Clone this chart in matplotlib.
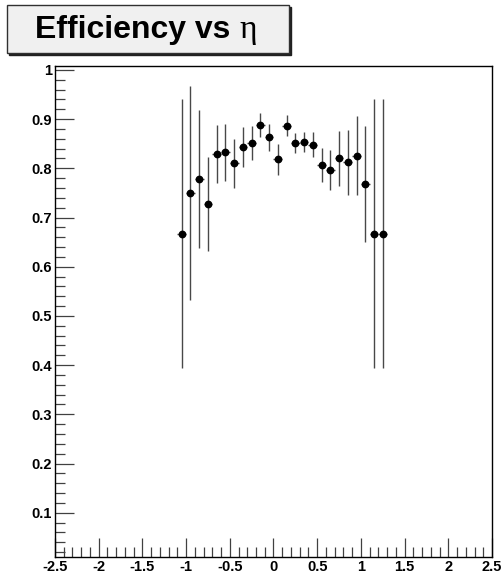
import matplotlib.pyplot as plt
from matplotlib.patches import Rectangle
from matplotlib.ticker import MultipleLocator, FormatStrFormatter

# === Data: efficiency per eta bin (bin width 0.1)
eta = [-1.05, -0.95, -0.85, -0.75, -0.65, -0.55, -0.45, -0.35, -0.25, -0.15,
       -0.05, 0.05, 0.15, 0.25, 0.35, 0.45, 0.55, 0.65, 0.75, 0.85,
       0.95, 1.05, 1.15, 1.25]
eff = [0.667, 0.750, 0.778, 0.727, 0.829, 0.833, 0.810, 0.843, 0.851, 0.888,
       0.863, 0.818, 0.887, 0.851, 0.853, 0.848, 0.807, 0.797, 0.820, 0.812,
       0.826, 0.769, 0.667, 0.667]
eff_err = [0.273, 0.218, 0.140, 0.096, 0.059, 0.058, 0.050, 0.040, 0.035, 0.025,
           0.027, 0.031, 0.022, 0.020, 0.020, 0.025, 0.034, 0.041, 0.056, 0.066,
           0.080, 0.118, 0.273, 0.273]
eta_halfwidth = 0.05

plt.rcParams['font.family'] = ['Liberation Sans', 'DejaVu Sans']

W, H = 502, 575
fig = plt.figure(figsize=(W / 100, H / 100), dpi=100)
ax = fig.add_axes([55 / W, 1 - 557 / H, 437 / W, 491 / H])

ax.errorbar(eta, eff, yerr=eff_err, xerr=eta_halfwidth, fmt='o', color='black',
            ecolor='#484848', elinewidth=1.0, markersize=4.6, capsize=0)

ax.set_xlim(-2.5, 2.5)
ax.set_ylim(0.01, 1.008)

# === ROOT-like axes
ax.xaxis.set_major_locator(MultipleLocator(0.5))
ax.xaxis.set_minor_locator(MultipleLocator(0.1))
ax.yaxis.set_major_locator(MultipleLocator(0.1))
ax.yaxis.set_minor_locator(MultipleLocator(0.02))
ax.xaxis.set_major_formatter(FormatStrFormatter('%g'))
ax.yaxis.set_major_formatter(FormatStrFormatter('%g'))
ax.tick_params(which='both', direction='in', top=False, right=False,
               labelsize=10.5, width=0.9, color='#404040')
ax.tick_params(which='major', length=14)
ax.tick_params(which='minor', length=7)
ax.tick_params(axis='x', which='major', pad=2.5)
ax.tick_params(axis='y', which='major', pad=2)
for lbl in ax.get_xticklabels() + ax.get_yticklabels():
    lbl.set_fontweight('bold')
for sp in ax.spines.values():
    sp.set_linewidth(1.0)

# === Title box (ROOT style with shadow)
fig.patches.append(Rectangle((9 / W, 1 - 55 / H), 282 / W, 48 / H,
                             transform=fig.transFigure, facecolor='#202020',
                             edgecolor='#202020', zorder=1))
fig.patches.append(Rectangle((7 / W, 1 - 53 / H), 282 / W, 48 / H,
                             transform=fig.transFigure, facecolor='#f0f0f0',
                             edgecolor='#303030', linewidth=1.0, zorder=2))
t1 = fig.text(35 / W, 1 - 38 / H, 'Efficiency vs ', ha='left', va='baseline',
              fontsize=23, fontweight='bold', zorder=3)
renderer = fig.canvas.get_renderer()
bb = t1.get_window_extent(renderer=renderer)
fig.text(bb.x1 / W, 1 - 38 / H, '\u03b7', ha='left', va='baseline',
         fontsize=24, family=['Liberation Serif', 'DejaVu Serif'], zorder=3)

fig.savefig('out.png', dpi=100)
